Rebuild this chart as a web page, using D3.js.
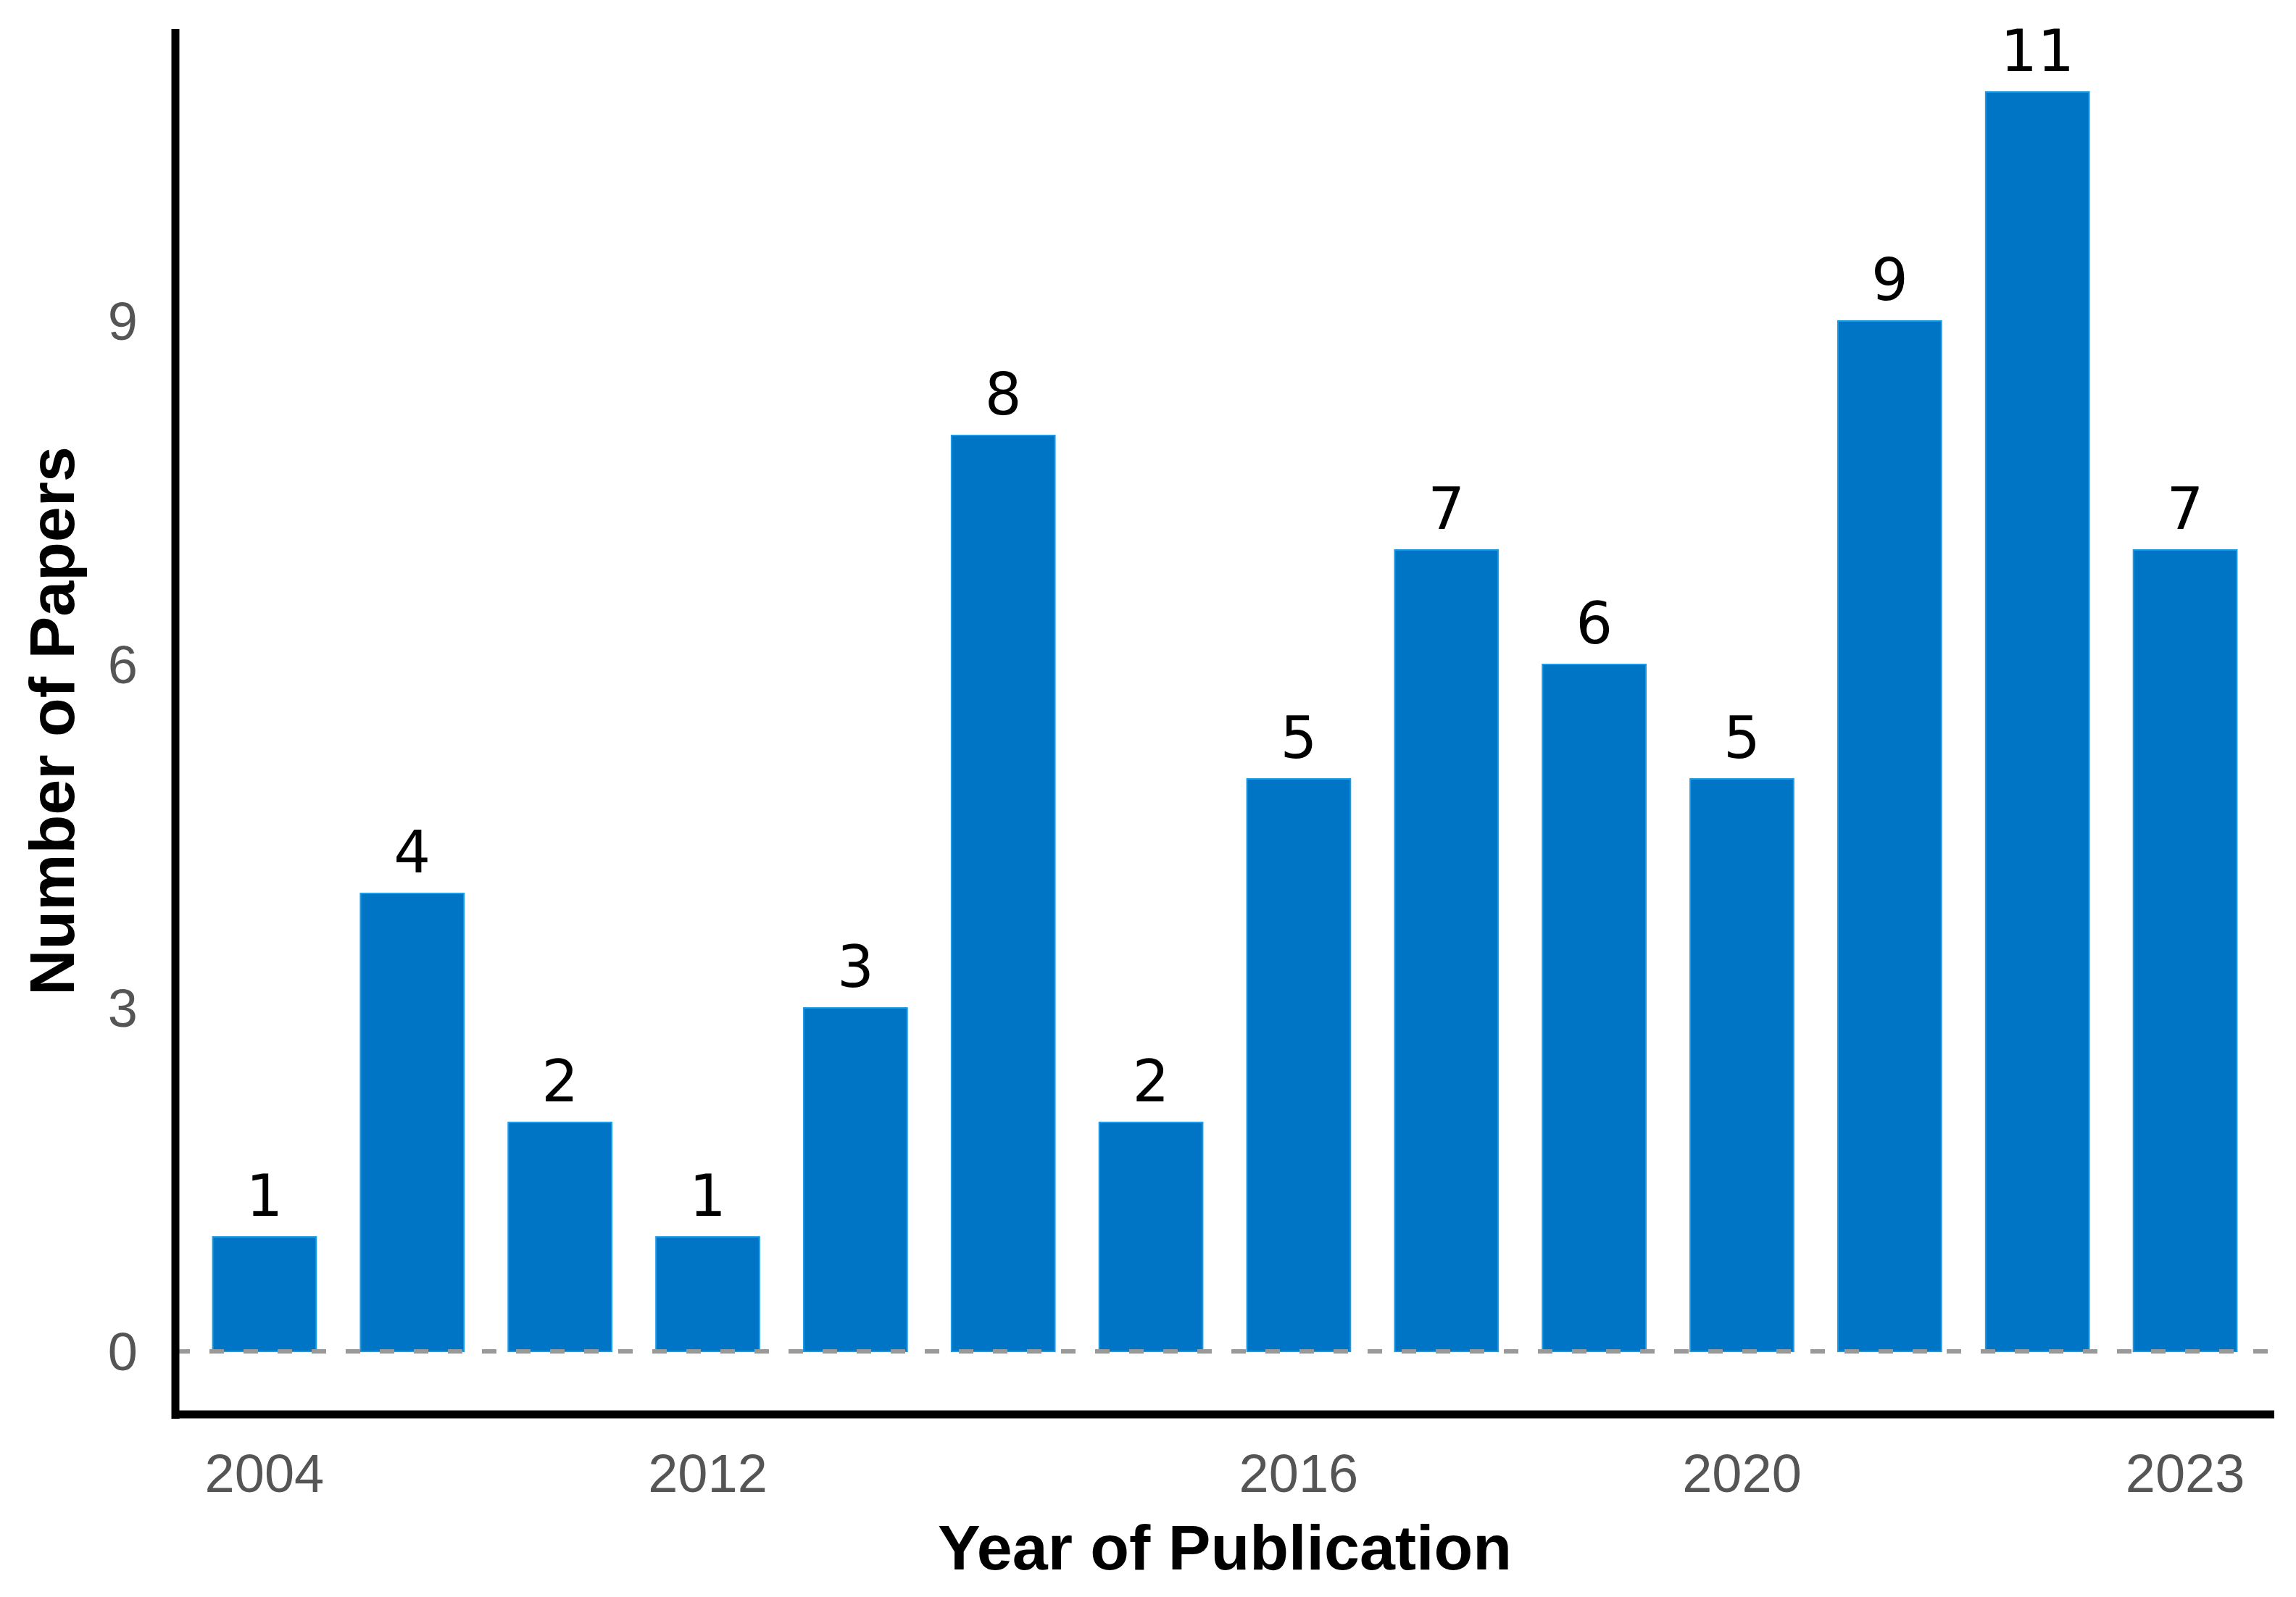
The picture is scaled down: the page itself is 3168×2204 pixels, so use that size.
<!DOCTYPE html>
<html>
<head>
<meta charset="utf-8">
<script src="https://cdn.jsdelivr.net/npm/d3@7"></script>
<style>
  html, body { margin: 0; padding: 0; background: #fff; }
  svg { display: block; }
</style>
</head>
<body>
<svg id="chart" width="3168" height="2204"></svg>
<script>
// ---- data ----
const barIndex = [1, 2, 3, 4, 5, 6, 7, 8, 9, 10, 11, 12, 13, 14];
const tickLabels = ["2004", "", "", "2012", "", "", "", "2016", "", "", "2020", "", "", "2023"];
const paperCounts = [1, 4, 2, 1, 3, 8, 2, 5, 7, 6, 5, 9, 11, 7];
const yTicks = [0, 3, 6, 9];
const xTitle = "Year of Publication";
const yTitle = "Number of Papers";

// ---- layout ----
const axisX = 242, axisY = 1952, axisTop = 40, axisRight = 3138;
const svg = d3.select("#chart");

const x = d3.scaleBand()
  .domain(barIndex)
  .range([263, 3117])
  .paddingInner(0.3)
  .paddingOuter(0.15);

const y = d3.scaleLinear()
  .domain([-0.55, 11.55])
  .range([axisY, axisTop]);

const font = "'Liberation Sans', Arial, sans-serif";
const valueFont = "'DejaVu Sans', sans-serif";

// bars
svg.append("g").selectAll("rect")
  .data(paperCounts)
  .join("rect")
  .attr("x", (d, i) => x(barIndex[i]))
  .attr("width", x.bandwidth())
  .attr("y", d => y(d))
  .attr("height", d => y(0) - y(d))
  .attr("fill", "#0075C6")
  .attr("stroke", "#1A9BE6")
  .attr("stroke-width", 2);

// dashed zero line
svg.append("line")
  .attr("x1", axisX).attr("x2", axisRight)
  .attr("y1", y(0)).attr("y2", y(0))
  .attr("stroke", "#999")
  .attr("stroke-width", 6)
  .attr("stroke-dasharray", "20,27");

// value labels
svg.append("g").selectAll("text")
  .data(paperCounts)
  .join("text")
  .attr("x", (d, i) => x(barIndex[i]) + x.bandwidth() / 2)
  .attr("y", d => y(d) - 29)
  .attr("text-anchor", "middle")
  .attr("font-family", valueFont)
  .attr("font-size", 80)
  .attr("fill", "#000")
  .text(d => d);

// y axis (labels only, via d3 axis)
const yAxis = d3.axisLeft(y).tickValues(yTicks).tickSize(0).tickPadding(0).tickFormat(d3.format("d"));
const gy = svg.append("g").attr("transform", `translate(190,0)`).call(yAxis);
gy.select(".domain").remove();
gy.selectAll("text")
  .attr("font-family", font)
  .attr("font-size", 74)
  .attr("fill", "#555")
  .attr("dy", "0.35em");

// x axis labels via d3 axis
const xAxis = d3.axisBottom(x).tickSize(0).tickPadding(0).tickFormat((d, i) => tickLabels[i]);
const gx = svg.append("g").attr("transform", `translate(0,${axisY})`).call(xAxis);
gx.select(".domain").remove();
gx.selectAll("text")
  .attr("font-family", font)
  .attr("font-size", 74)
  .attr("fill", "#555")
  .attr("y", 81)
  .attr("dy", "0.35em");

// axis lines
svg.append("line")
  .attr("x1", axisX).attr("x2", axisX)
  .attr("y1", axisTop).attr("y2", axisY + 6)
  .attr("stroke", "#000").attr("stroke-width", 11);
svg.append("line")
  .attr("x1", axisX - 5).attr("x2", axisRight)
  .attr("y1", axisY).attr("y2", axisY)
  .attr("stroke", "#000").attr("stroke-width", 11);

// axis titles
svg.append("text")
  .attr("x", 1690).attr("y", 2166)
  .attr("text-anchor", "middle")
  .attr("font-family", font)
  .attr("font-weight", "bold")
  .attr("font-size", 88)
  .attr("fill", "#000")
  .text(xTitle);

svg.append("text")
  .attr("transform", `translate(102,995) rotate(-90)`)
  .attr("text-anchor", "middle")
  .attr("font-family", font)
  .attr("font-weight", "bold")
  .attr("font-size", 88)
  .attr("fill", "#000")
  .text(yTitle);
</script>
</body>
</html>
